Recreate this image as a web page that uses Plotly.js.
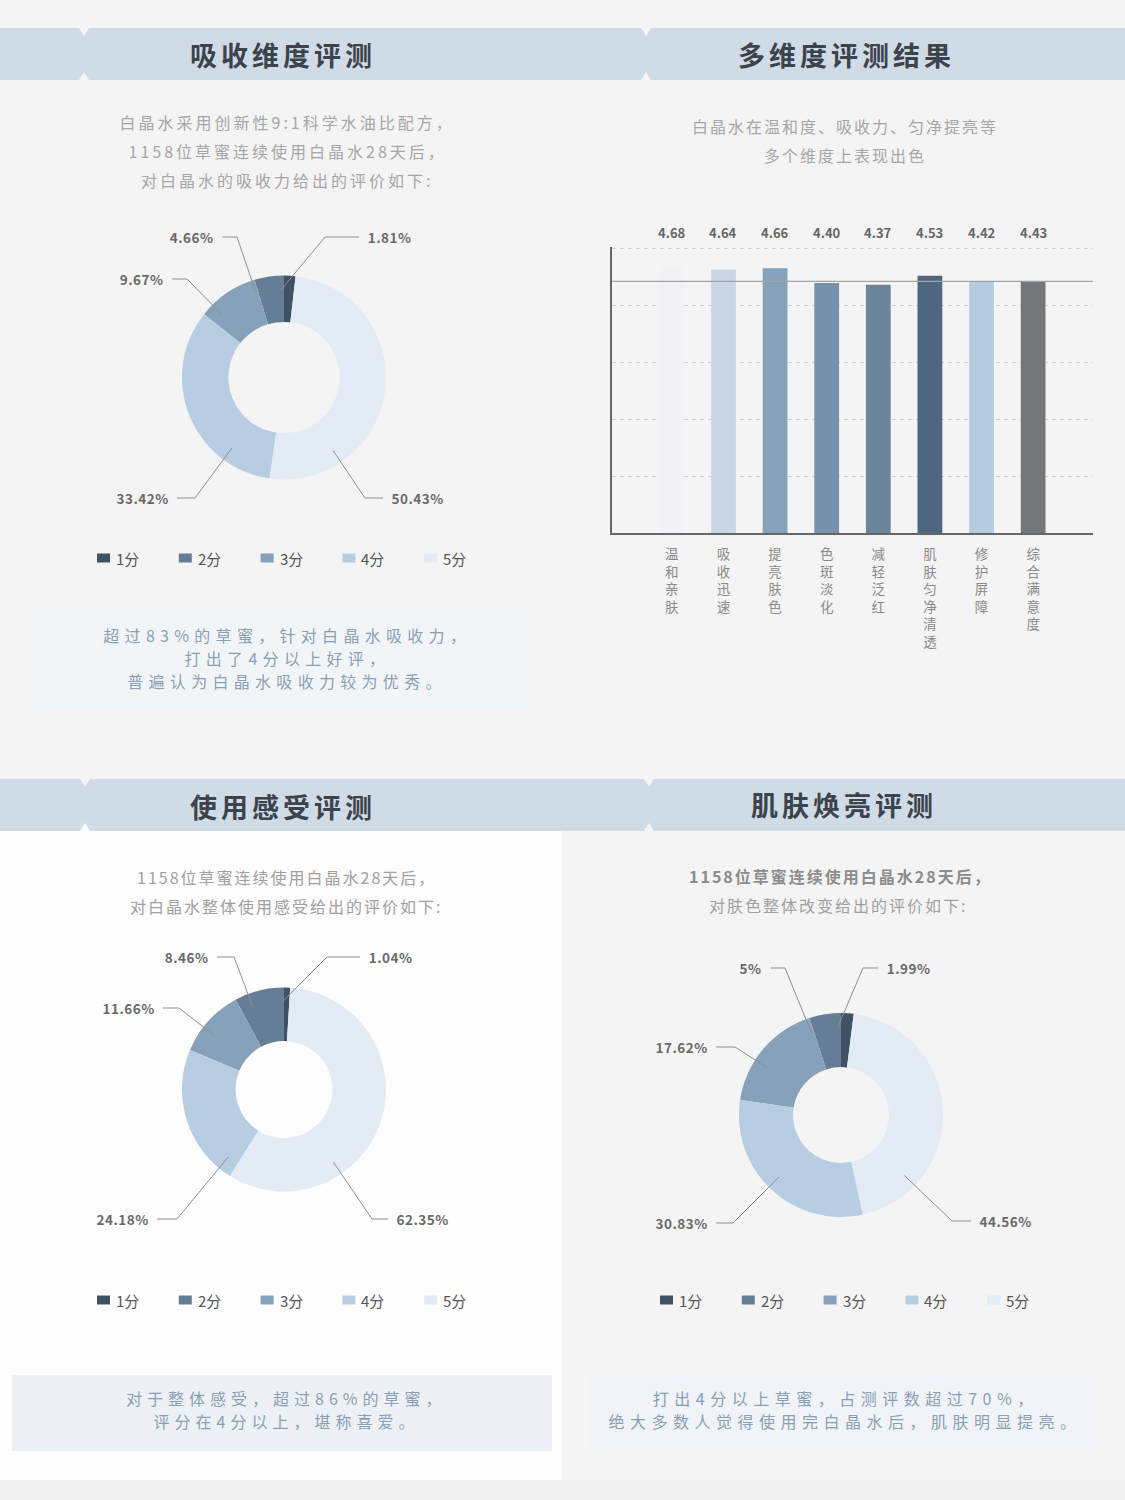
<!DOCTYPE html>
<html><head><meta charset="utf-8">
<script src="https://cdn.plot.ly/plotly-3.0.1.min.js"></script>
<style>html,body{margin:0;padding:0;background:#f4f4f4;}#chart{width:1125px;height:1500px;}</style>
</head><body><div id="chart"></div>
<script>
// ---------------- data ----------------
const scoreLabels = ['1分', '2分', '3分', '4分', '5分'];
const absorbShares = [1.81, 4.66, 9.67, 33.42, 50.43];
const feelShares = [1.04, 8.46, 11.66, 24.18, 62.35];
const brightShares = [1.99, 5, 17.62, 30.83, 44.56];
const dimCategories = ['温和亲肤', '吸收迅速', '提亮肤色', '色斑淡化', '减轻泛红', '肌肤匀净清透', '修护屏障', '综合满意度'];
const dimScores = [4.68, 4.64, 4.66, 4.40, 4.37, 4.53, 4.42, 4.43];
const yTicks = [1, 2, 3, 4, 5];

// ---------------- styles ----------------
const W = 1125, H = 1500;
const FONT = '"Noto Sans CJK SC", "Noto Sans", sans-serif';
const sliceColors = ['#3f5265', '#667d96', '#86a1ba', '#b7cde2', '#e3ebf4'];
const barColors = ['#f0f2f5', '#cad7e4', '#86a2ba', '#7792ad', '#6a8599', '#4f6680', '#b4cbe0', '#75787b'];
const px = x => x / W;
const py = y => 1 - y / H;

const shapes = [];
const annotations = [];
const spacing = [];

function rect(x0, y0, x1, y1, fill, layer) {
  shapes.push({type: 'rect', xref: 'paper', yref: 'paper', x0: px(x0), x1: px(x1), y0: py(y1), y1: py(y0),
    fillcolor: fill, line: {width: 0}, layer: layer || 'below'});
}
function tri(pts, fill) {
  const d = 'M ' + pts.map(p => px(p[0]) + ',' + py(p[1])).join(' L ') + ' Z';
  shapes.push({type: 'path', xref: 'paper', yref: 'paper', path: d, fillcolor: fill, line: {width: 0}, layer: 'below'});
}
function text(t, x, y, size, color, weight, ls, xanchor) {
  annotations.push({text: t, x: px(x), y: py(y), xref: 'paper', yref: 'paper', showarrow: false,
    xanchor: xanchor || 'center', yanchor: 'middle', align: 'center',
    font: {family: FONT, size: size, color: color, weight: weight || 400}});
  spacing.push(ls || 0);
}

// ---------------- page background ----------------
rect(0, 830, 562, 1480, '#fdfdfd');
rect(0, 1480, 1125, 1500, '#f1f1f1');
rect(30, 610, 538, 708, '#f2f5f8');
rect(12, 1375, 552, 1451, '#edf1f6');
rect(588, 1375, 1095, 1448, '#f0f3f7');
// banners
rect(0, 28, 1125, 80, '#cfdbe6');
rect(0, 779, 1125, 831, '#cfdbe6');
[[84, 28, 80, '#f6f6f6', '#f5f5f5'], [646, 28, 80, '#f6f6f6', '#f5f5f5'],
 [85, 779, 831, '#f4f4f4', '#fdfdfd'], [649, 779, 831, '#f4f4f4', '#f4f4f4']].forEach(n => {
  tri([[n[0] - 5, n[1]], [n[0] + 5, n[1]], [n[0], n[1] + 8]], n[3]);
  tri([[n[0] - 5, n[2]], [n[0] + 5, n[2]], [n[0], n[2] - 8]], n[4]);
});

// ---------------- headings & texts ----------------
const TITLE_C = '#3b434d';
text('吸收维度评测', 283, 55, 27, TITLE_C, 700, 4);
text('多维度评测结果', 846, 55, 27, TITLE_C, 700, 4);
text('使用感受评测', 283, 806, 27, TITLE_C, 700, 4);
text('肌肤焕亮评测', 844, 805, 27, TITLE_C, 700, 4);

const SUB_C = '#a6a6a6';
['白晶水采用创新性9:1科学水油比配方，', '1158位草蜜连续使用白晶水28天后，', '对白晶水的吸收力给出的评价如下:']
  .forEach((t, i) => text(t, 287, 122 + i * 29, 16, SUB_C, 400, 3));
['白晶水在温和度、吸收力、匀净提亮等', '多个维度上表现出色']
  .forEach((t, i) => text(t, 845, 126 + i * 29, 16, SUB_C, 400, 2));
['1158位草蜜连续使用白晶水28天后，', '对白晶水整体使用感受给出的评价如下:']
  .forEach((t, i) => text(t, 286, 877 + i * 29, 16, '#a0a0a0', 400, 2));
text('1158位草蜜连续使用白晶水28天后，', 840, 876, 16, '#8c8c8c', 700, 2);
text('对肤色整体改变给出的评价如下:', 838, 905, 16, '#a0a0a0', 400, 2);

const CON_C = '#8a9fb3';
['超过83%的草蜜，针对白晶水吸收力，', '打出了4分以上好评，', '普遍认为白晶水吸收力较为优秀。']
  .forEach((t, i) => text(t, 287, 635 + i * 23, 16, CON_C, 400, 5.3));
['对于整体感受，超过86%的草蜜，', '评分在4分以上，堪称喜爱。']
  .forEach((t, i) => text(t, 286, 1398 + i * 23, 16, CON_C, 400, 5));
['打出4分以上草蜜，占测评数超过70%，', '绝大多数人觉得使用完白晶水后，肌肤明显提亮。']
  .forEach((t, i) => text(t, 845, 1398 + i * 23, 16, CON_C, 400, 5.5));

// ---------------- donuts ----------------
const pies = [
  {values: absorbShares, cx: 284, cy: 377.5, R: 102, hole: 0.545, legendAt: [97, 558],
   slots: [[41, -140.5, 75], [-47, -140.5, -62], [-97, -98.5, -112], [-89, 120.5, -107], [81, 120.5, 99]]},
  {values: feelShares, cx: 284, cy: 1089.5, R: 102, hole: 0.475, legendAt: [97, 1300],
   slots: [[43, -132.5, 76], [-50, -132.5, -67], [-105, -81.5, -121], [-107, 129.5, -127], [88, 129.5, 104]]},
  {values: brightShares, cx: 841, cy: 1115, R: 102, hole: 0.47, legendAt: [660, 1300],
   slots: [[22, -147, 37], [-56, -147, -70], [-106, -68, -125], [-108, 108, -125], [111, 106, 130]]}
];

const traces = [];
pies.forEach(p => {
  traces.push({
    type: 'pie', values: p.values, labels: scoreLabels, sort: false,
    direction: 'counterclockwise', rotation: 0, hole: p.hole,
    marker: {colors: sliceColors, line: {width: 0}},
    textinfo: 'none', hoverinfo: 'none', showlegend: false,
    domain: {x: [px(p.cx - p.R), px(p.cx + p.R)], y: [py(p.cy + p.R), py(p.cy - p.R)]}
  });
  // leader lines + labels, anchored on each slice's own angular span
  const total = p.values.reduce((a, b) => a + b, 0);
  let cum = 0;
  p.values.forEach((v, i) => {
    const span = v / total * 360;
    const mid = cum + span / 2;
    cum += span;
    const [ex, ey, endx] = p.slots[i];
    const aSlot = Math.atan2(-ex, -ey) * 180 / Math.PI;
    let d = ((aSlot - mid) % 360 + 540) % 360 - 180;
    const half = Math.max(0, span / 2 - Math.min(span * 0.3, 6));
    d = Math.max(-half, Math.min(half, d));
    const a = (mid + d) * Math.PI / 180;
    const r = p.R * 0.86;
    const sx = p.cx - r * Math.sin(a), sy = p.cy - r * Math.cos(a);
    const bx = p.cx + ex, by = p.cy + ey, tx = p.cx + endx;
    shapes.push({type: 'path', xref: 'paper', yref: 'paper',
      path: `M ${px(sx)},${py(sy)} L ${px(bx)},${py(by)} L ${px(tx)},${py(by)}`,
      line: {color: '#8f8f8f', width: 1}, layer: 'above'});
    const side = endx > ex ? 1 : -1;
    text(v + '%', tx + side * 8, by, 13.5, '#6a6a6a', 700, 0.5, side > 0 ? 'left' : 'right');
  });
  // legend (one key per score level)
  scoreLabels.forEach((lab, i) => {
    const lx = p.legendAt[0] + i * 81.8, ly = p.legendAt[1];
    rect(lx, ly - 4.5, lx + 13, ly + 4.5, sliceColors[i], 'above');
    text(lab, lx + 17, ly, 15, '#555', 400, 0, 'left');
  });
});

// ---------------- bar chart ----------------
traces.push({
  type: 'bar', x: dimCategories, y: dimScores, xaxis: 'x', yaxis: 'y',
  marker: {color: barColors, line: {width: 0}}, width: 0.48,
  showlegend: false, hoverinfo: 'none'
});
dimCategories.forEach((c, i) => {
  annotations.push({text: dimScores[i].toFixed(2), x: c, xref: 'x', y: py(232), yref: 'paper',
    showarrow: false, xanchor: 'center', yanchor: 'middle',
    font: {family: FONT, size: 13, color: '#666', weight: 700}});
  spacing.push(0);
});
shapes.push({type: 'line', xref: 'x domain', x0: 0, x1: 1, yref: 'y',
  y0: dimScores[dimScores.length - 1], y1: dimScores[dimScores.length - 1],
  line: {color: '#a3a3a3', width: 1.3}, layer: 'above'});

const Y_TOP = 5.03;           // small headroom so the top grid line is drawn
const UNIT = 56.8;            // px per score unit
const layout = {
  width: W, height: H, margin: {l: 0, r: 0, t: 0, b: 0, pad: 0},
  paper_bgcolor: '#f4f4f4', plot_bgcolor: 'rgba(0,0,0,0)',
  font: {family: FONT},
  showlegend: false,
  xaxis: {domain: [px(612), px(1093)], anchor: 'y', type: 'category', range: [-1.16, 8.16],
    tickvals: dimCategories, ticktext: dimCategories.map(c => c.split('').join('<br>')),
    showline: true, linecolor: '#666', linewidth: 2, ticks: '', showgrid: false,
    ticklabelstandoff: 8,
    tickfont: {family: FONT, size: 13.5, color: '#8a8a8a'}, fixedrange: true},
  yaxis: {domain: [py(533), py(533 - Y_TOP * UNIT)], anchor: 'x', range: [0, Y_TOP], tickvals: yTicks,
    showticklabels: false, showgrid: true, gridcolor: '#cdcdcd', griddash: '4px,4px', gridwidth: 1,
    showline: true, linecolor: '#666', linewidth: 2, zeroline: false, ticks: '', fixedrange: true},
  bargap: 0.52,
  shapes: shapes,
  annotations: annotations
};

Plotly.newPlot('chart', traces, layout, {staticPlot: true, displayModeBar: false}).then(() => {
  document.querySelectorAll('g.annotation').forEach(g => {
    const idx = +g.getAttribute('data-index');
    const t = g.querySelector('text');
    if (t && spacing[idx]) t.style.letterSpacing = spacing[idx] + 'px';
  });
});
</script>
</body></html>
